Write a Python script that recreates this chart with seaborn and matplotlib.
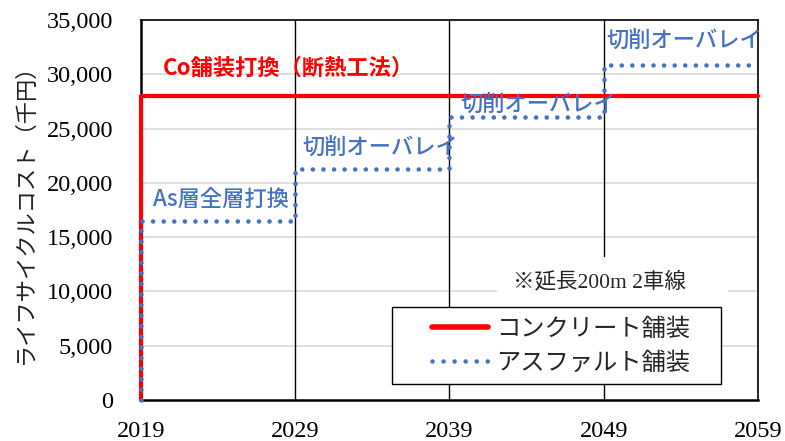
import matplotlib
matplotlib.use("Agg")
import matplotlib.pyplot as plt
import seaborn as sns
import pandas as pd
import numpy as np
from matplotlib.lines import Line2D
from matplotlib.patches import Rectangle
from matplotlib.legend_handler import HandlerLine2D

# Life-cycle cost (thousand yen) over a 40-year period
concrete_years = [2019, 2019, 2059]
concrete_cost = [0, 28000, 28000]

asphalt_years = [2019, 2019, 2029, 2039, 2049, 2059]
asphalt_cost = [0, 16500, 21300, 26100, 30900, 30900]

x_ticks = [2019, 2029, 2039, 2049, 2059]
y_ticks = [0, 5000, 10000, 15000, 20000, 25000, 30000, 35000]

series_names = ["コンクリート舗装", "アスファルト舗装"]
event_labels = ["As層全層打換", "切削オーバレイ", "切削オーバレイ", "切削オーバレイ"]
concrete_label = "Co舗装打換（断熱工法）"
note_text = "※延長200m 2車線"
y_label = "ライフサイクルコスト（千円）"

RED = "#FF0000"
BLUE = "#4472C4"
SERIF = ["Liberation Serif", "Noto Sans CJK JP"]
JP = ["Noto Sans CJK JP", "DejaVu Sans"]


class InsetLineHandler(HandlerLine2D):
    """Legend line drawn in the right part of the handle box."""
    def get_xdata(self, legend, xdescent, ydescent, width, height, fontsize):
        lead = 0.36 * width
        xd = np.array([-xdescent + lead, -xdescent + width])
        return xd, xd


sns.set_theme(style="white")
plt.rcParams["font.family"] = SERIF

df_c = pd.DataFrame({"year": concrete_years, "cost": concrete_cost})
df_a = pd.DataFrame({"year": asphalt_years, "cost": asphalt_cost})

fig = plt.figure(figsize=(7.85, 4.41), dpi=100)
ax = fig.add_axes([0.1796, 0.093, 0.786, 0.8616])

sns.lineplot(data=df_c, x="year", y="cost", ax=ax, estimator=None, sort=False,
             drawstyle="steps-post", color=RED, linewidth=3.0,
             label=series_names[0], zorder=3)
sns.lineplot(data=df_a, x="year", y="cost", ax=ax, estimator=None, sort=False,
             drawstyle="steps-post", color=BLUE, linewidth=3.3,
             label=series_names[1], zorder=4)
red_line, blue_line = ax.lines[0], ax.lines[1]
red_line.set_clip_on(False)
blue_line.set_clip_on(False)
blue_line.set_linestyle((0, (0.01, 2.3)))
blue_line.set_dash_capstyle("round")

ax.set_xlim(x_ticks[0], x_ticks[-1])
ax.set_ylim(y_ticks[0], y_ticks[-1])
ax.set_xticks(x_ticks)
ax.set_yticks(y_ticks)
ax.set_xticklabels([str(v) for v in x_ticks])
ax.set_yticklabels([f"{v:,}" for v in y_ticks])
ax.tick_params(axis="both", length=0, labelsize=17.5, colors="black")
ax.tick_params(axis="x", pad=15)
ax.tick_params(axis="y", pad=20)
for lab in ax.get_xticklabels() + ax.get_yticklabels():
    lab.set_family(SERIF)

# gray horizontal gridlines, black vertical gridlines
for v in y_ticks[1:-1]:
    ax.axhline(v, color="#D9D9D9", linewidth=1.2, zorder=1)
for v in x_ticks[1:-1]:
    ax.axvline(v, color="black", linewidth=1.0, zorder=1)

for side in ["top", "right"]:
    ax.spines[side].set_color("black")
    ax.spines[side].set_linewidth(1.2)
for side in ["left", "bottom"]:
    ax.spines[side].set_color("black")
    ax.spines[side].set_linewidth(1.8)

ax.set_xlabel("")
ax.set_ylabel("")
fig.text(0.032, 0.528, y_label, rotation=90, fontsize=16, family=JP,
         color="#222222", ha="center", va="center")

# annotations
ax.text(2020.4, 30600, concrete_label, color=RED, fontsize=16, fontweight="bold",
        family=JP, ha="left", va="center", zorder=5)
label_pos = [(2019.8, 18500), (2029.45, 23300), (2039.7, 27250), (2049.2, 33150)]
for lab, (lx, ly) in zip(event_labels, label_pos):
    ax.text(lx, ly, lab, color=BLUE, fontsize=16, fontweight="medium", family=JP,
            ha="left", va="center", zorder=5)

# note in a white text box
ax.add_patch(Rectangle((0.577, 0.2395), 0.374, 0.137, transform=ax.transAxes,
                       facecolor="white", edgecolor="none", zorder=6))
ax.text(2048.7, 10870, note_text, fontsize=15.5, family=SERIF, ha="center",
        va="center", zorder=6.5)

leg = ax.legend(loc="lower left", bbox_to_anchor=(0.407, 0.042, 0.533, 0.2),
                mode="expand", borderaxespad=0,
                frameon=True, fancybox=False, edgecolor="black", framealpha=1,
                borderpad=0.35, handlelength=3.58, handletextpad=0.33,
                labelspacing=0.33,
                handler_map={Line2D: InsetLineHandler()},
                prop={"family": JP, "size": 17.5})
leg.get_frame().set_linewidth(1.0)
leg.set_zorder(7)
for h in leg.get_lines():
    if h.get_color() == RED:
        h.set_linewidth(4.0)
    else:
        h.set_linewidth(3.3)
        h.set_linestyle((0, (0.01, 2.4)))
        h.set_dash_capstyle("round")

fig.savefig("out.png", dpi=100)
